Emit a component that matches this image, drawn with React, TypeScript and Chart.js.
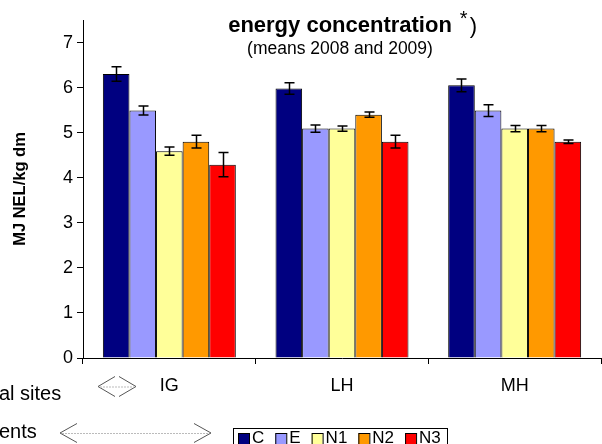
import React, { useEffect, useRef } from "react";
import { Chart, registerables } from "chart.js";

Chart.register(...registerables);

const sites = ["IG", "LH", "MH"];
const seriesNames = ["C", "E", "N1", "N2", "N3"];
const seriesColors = ["#000080", "#9999FF", "#FFFF99", "#FF9900", "#FF0000"];
const valuesC = [6.3, 5.98, 6.05];
const valuesE = [5.49, 5.09, 5.49];
const valuesN1 = [4.59, 5.09, 5.09];
const valuesN2 = [4.8, 5.4, 5.09];
const valuesN3 = [4.29, 4.8, 4.8];
const errC = [0.16, 0.13, 0.14];
const errE = [0.1, 0.08, 0.13];
const errN1 = [0.09, 0.06, 0.07];
const errN2 = [0.14, 0.06, 0.07];
const errN3 = [0.27, 0.14, 0.04];
const yTicks = [0, 1, 2, 3, 4, 5, 6, 7];

const seriesValues = [valuesC, valuesE, valuesN1, valuesN2, valuesN3];
const seriesErrors = [errC, errE, errN1, errN2, errN3];

const FONT = "'Liberation Sans', Arial, sans-serif";

const errorBarPlugin = {
  id: "errorBars",
  afterDatasetsDraw(chart: any) {
    const ctx = chart.ctx;
    const y = chart.scales.y;
    ctx.save();
    ctx.strokeStyle = "#000";
    ctx.lineWidth = 1.5;
    chart.data.datasets.forEach((ds: any, i: number) => {
      const meta = chart.getDatasetMeta(i);
      meta.data.forEach((bar: any, j: number) => {
        const v = ds.data[j];
        const e = seriesErrors[i][j];
        const x = Math.round(bar.x) + 0.5;
        const yt = y.getPixelForValue(v + e);
        const yb = y.getPixelForValue(v - e);
        ctx.beginPath();
        ctx.moveTo(x, yt);
        ctx.lineTo(x, yb);
        ctx.moveTo(x - 5, yt);
        ctx.lineTo(x + 5, yt);
        ctx.moveTo(x - 5, yb);
        ctx.lineTo(x + 5, yb);
        ctx.stroke();
      });
    });
    ctx.restore();
  },
};

function drawArrow(ctx: any, x1: number, x2: number, yc: number, depth: number, half: number) {
  ctx.save();
  ctx.strokeStyle = "#555";
  ctx.lineWidth = 1;
  ctx.beginPath();
  ctx.moveTo(x1 + depth, yc - half);
  ctx.lineTo(x1, yc);
  ctx.lineTo(x1 + depth, yc + half);
  ctx.moveTo(x2 - depth, yc - half);
  ctx.lineTo(x2, yc);
  ctx.lineTo(x2 - depth, yc + half);
  ctx.stroke();
  ctx.strokeStyle = "#bbb";
  ctx.setLineDash([2, 1]);
  ctx.beginPath();
  ctx.moveTo(x1 + 2, yc + 0.5);
  ctx.lineTo(x2 - 2, yc + 0.5);
  ctx.stroke();
  ctx.restore();
}

const decorPlugin = {
  id: "decor",
  afterDraw(chart: any) {
    const ctx = chart.ctx;
    const area = chart.chartArea;
    ctx.save();
    ctx.fillStyle = "#000";
    // title
    const cx = (area.left + area.right) / 2 - 2;
    ctx.font = `bold 22px ${FONT}`;
    ctx.textBaseline = "alphabetic";
    ctx.textAlign = "center";
    const t = "energy concentration";
    ctx.fillText(t, cx, 32);
    const tw = ctx.measureText(t).width;
    ctx.textAlign = "left";
    ctx.font = `20px ${FONT}`;
    ctx.fillText("*", cx + tw / 2 + 8, 25);
    ctx.font = `22px ${FONT}`;
    ctx.fillText(")", cx + tw / 2 + 18, 33);
    ctx.textAlign = "center";
    ctx.font = `17.5px ${FONT}`;
    ctx.fillText("(means 2008 and 2009)", cx, 54);

    // left labels (partially outside)
    ctx.textAlign = "right";
    ctx.font = `20px ${FONT}`;
    ctx.textBaseline = "alphabetic";
    const w1 = ctx.measureText("al sites").width - 1;
    ctx.fillText("experimental sites", w1, 400);
    const w2 = ctx.measureText("ents").width - 1;
    ctx.fillText("treatments", w2, 438);

    drawArrow(ctx, 98, 136, 386.5, 17, 10);
    drawArrow(ctx, 60, 211, 433, 17, 9.5);

    // legend
    const lx = 233, ly = 428, lw = 214, lh = 20;
    ctx.strokeStyle = "#000";
    ctx.lineWidth = 1;
    ctx.strokeRect(lx + 0.5, ly + 0.5, lw, lh);
    ctx.font = `17px ${FONT}`;
    ctx.textAlign = "left";
    ctx.textBaseline = "middle";
    let px = lx + 5;
    const sy = ly + 5;
    seriesNames.forEach((n, i) => {
      ctx.fillStyle = seriesColors[i];
      ctx.fillRect(px, sy, 11, 11);
      ctx.strokeStyle = "#000";
      ctx.strokeRect(px + 0.5, sy + 0.5, 11, 11);
      ctx.fillStyle = "#000";
      ctx.fillText(n, px + 14, ly + 10);
      px += 14 + ctx.measureText(n).width + 11;
    });
    ctx.restore();
  },
};

export default function App() {
  const ref = useRef<HTMLCanvasElement | null>(null);
  useEffect(() => {
    if (!ref.current) return;
    const chart = new Chart(ref.current, {
      type: "bar",
      data: {
        labels: sites,
        datasets: seriesNames.map((n, i) => ({
          label: n,
          data: seriesValues[i],
          backgroundColor: seriesColors[i],
          borderColor: "#000",
          borderWidth: 1,
          categoryPercentage: 0.77,
          barPercentage: 1,
        })),
      },
      options: {
        responsive: false,
        animation: false,
        layout: { padding: { top: 20, right: 1, left: 0, bottom: 0 } },
        plugins: {
          legend: { display: false },
          title: { display: false },
          tooltip: { enabled: false },
        },
        scales: {
          x: {
            ticks: { color: "#000", font: { size: 18, family: FONT }, padding: 11 },
            grid: { drawOnChartArea: false, tickLength: 6, color: "#000", offset: true },
            border: { color: "#000", width: 1 },
            afterFit: (s: any) => {
              s.height = 86;
            },
          },
          y: {
            min: 0,
            max: 7.5,
            bounds: "data",
            afterBuildTicks: (s: any) => {
              s.ticks = yTicks.map((v) => ({ value: v }));
            },
            ticks: { color: "#000", font: { size: 18, family: FONT }, padding: 4, includeBounds: false, stepSize: 1 },
            grid: { drawOnChartArea: false, tickLength: 6, color: "#000" },
            border: { color: "#000", width: 1 },
            title: {
              display: true,
              text: "MJ NEL/kg dm",
              color: "#000",
              font: { size: 16.5, weight: "bold", family: FONT },
              padding: { top: 11, bottom: 0 },
            },
            afterFit: (s: any) => {
              s.width = 83;
            },
          },
        },
      },
      plugins: [errorBarPlugin, decorPlugin],
    } as any);
    return () => chart.destroy();
  }, []);
  return (
    <div style={{ position: "fixed", left: 0, top: 0, width: 602, height: 444, background: "#fff" }}>
      <canvas ref={ref} width={602} height={444} style={{ display: "block" }} />
    </div>
  );
}
